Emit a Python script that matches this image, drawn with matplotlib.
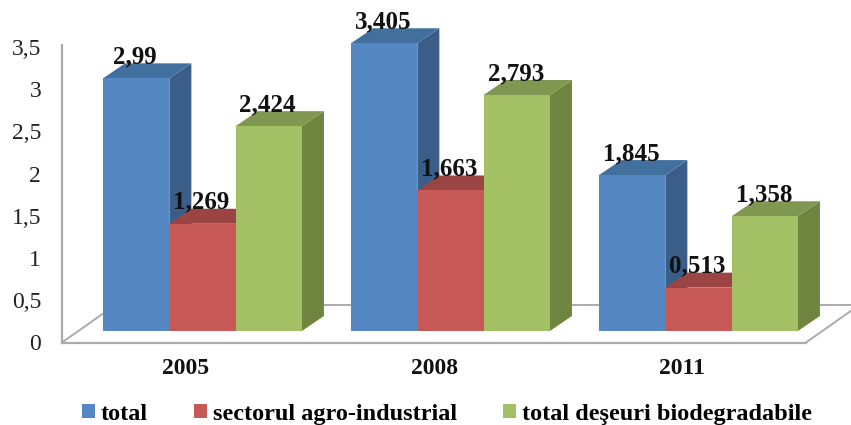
import matplotlib
matplotlib.use("Agg")
import matplotlib.pyplot as plt
from matplotlib.patches import Polygon, Patch

years = ["2005", "2008", "2011"]
total = [2.99, 3.405, 1.845]
agro = [1.269, 1.663, 0.513]
biodegradabile = [2.424, 2.793, 1.358]
labels_total = ["2,99", "3,405", "1,845"]
labels_agro = ["1,269", "1,663", "0,513"]
labels_bio = ["2,424", "2,793", "1,358"]
y_ticks = [0, 0.5, 1, 1.5, 2, 2.5, 3, 3.5]
y_labels = ["0", "0,5", "1", "1,5", "2", "2,5", "3", "3,5"]

W, H = 851, 425
plt.rcParams["font.family"] = ["Liberation Serif", "DejaVu Serif"]

fig = plt.figure(figsize=(W / 100, H / 100), dpi=100)
# axes box in pixels: left wall x=62, floor front y=342.5, top y=45
ax = fig.add_axes([62 / W, (H - 342.5) / H, (806 - 62) / W, (342.5 - 45) / H])
px_x = (806 - 62) / 3
px_y = 84.5
ax.set_xlim(-0.5, 2.5)
ax.set_ylim(0, (342.5 - 45) / px_y)

grey = "#ABABAB"
for s in ["top", "right"]:
    ax.spines[s].set_visible(False)
for s in ["left", "bottom"]:
    ax.spines[s].set_color(grey)
    ax.spines[s].set_linewidth(1.6)

ax.set_xticks(range(3))
ax.set_xticklabels(years, fontsize=17, fontweight="bold", color="#111111")
ax.set_yticks(y_ticks)
ax.set_yticklabels(y_labels, fontsize=17, color="#222222")
ax.tick_params(axis="x", length=0, pad=11.5)
ax.tick_params(axis="y", length=0, pad=15)

# floor outline
fx, fy = 54 / px_x, 38 / px_y
ax.plot([-0.5, -0.5 + fx], [0, fy], color=grey, lw=1.4, clip_on=False, zorder=1)
ax.plot([2.5, 2.5 + fx], [0, fy], color=grey, lw=1.4, clip_on=False, zorder=1)
ax.plot([-0.5 + fx, 2.5 + fx], [fy, fy], color=grey, lw=1.4, clip_on=False, zorder=1)

# bar depth and base offset
dx, dy = 22 / px_x, 15 / px_y
base = 11.5 / px_y
width = 66.3 / px_x
shift = 16.5 / px_x
label_nudge = 1 / px_x


def bar3d(x, val, front, top, side, z):
    y1 = base + val
    ax.add_patch(Polygon([(x + width, base), (x + width + dx, base + dy),
                          (x + width + dx, y1 + dy), (x + width, y1)],
                         fc=side, ec="none", zorder=z, clip_on=False))
    ax.add_patch(Polygon([(x, y1), (x + dx, y1 + dy), (x + width + dx, y1 + dy),
                          (x + width, y1)],
                         fc=top, ec="none", zorder=z, clip_on=False))
    ax.add_patch(Polygon([(x, base), (x + width, base), (x + width, y1), (x, y1)],
                         fc=front, ec="none", zorder=z, clip_on=False))


series = [
    (total, labels_total, "#5588C3", "#41709F", "#3A5E87"),
    (agro, labels_agro, "#C75A56", "#9A4543", "#8A3E3C"),
    (biodegradabile, labels_bio, "#A3C164", "#7F9750", "#6E843F"),
]

for i in range(3):
    for j, (vals, labs, front, top, side) in enumerate(series):
        x = i + shift + (j - 1.5) * width
        bar3d(x, vals[i], front, top, side, 2 + j)
        ax.text(x + width / 2 - label_nudge, base + vals[i] + dy, labs[i], ha="center", va="baseline",
                fontsize=18, fontweight="bold", color="#111111", zorder=10, clip_on=False)

handles = [Patch(fc=s[2], ec="none") for s in series]
fig.legend(handles, ["total", "sectorul agro-industrial", "total deşeuri biodegradabile"],
           ncols=3, loc="center", bbox_to_anchor=(447 / W, (H - 414.5) / H), frameon=False,
           prop={"size": 17.5, "weight": "bold"}, handlelength=0.52, handleheight=0.5,
           handletextpad=0.25, columnspacing=1.9, borderpad=0)

fig.savefig("out.png", dpi=100)
